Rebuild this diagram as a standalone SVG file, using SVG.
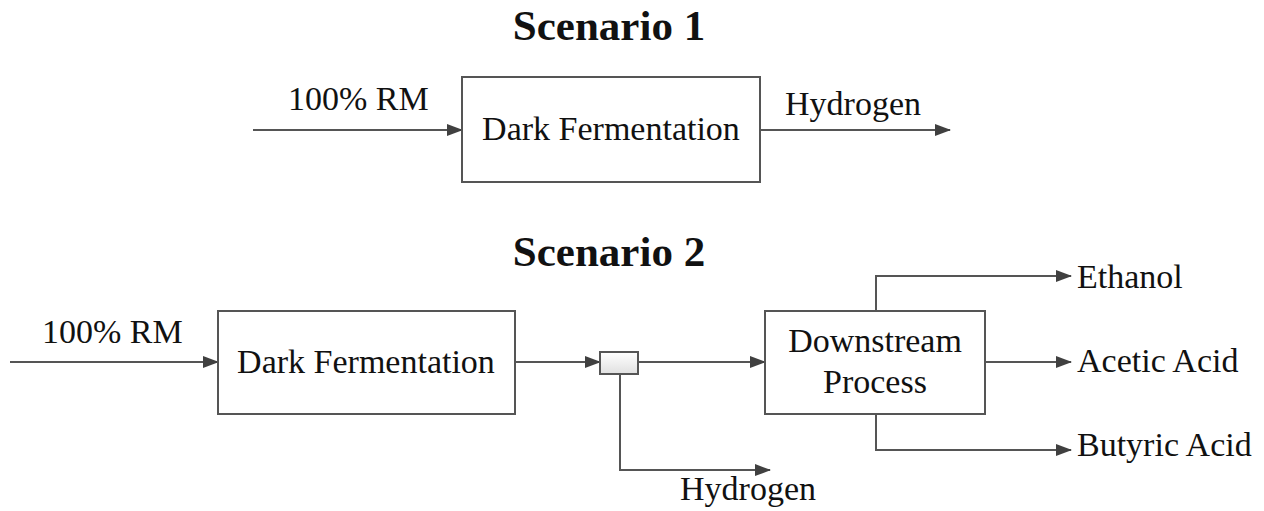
<svg xmlns="http://www.w3.org/2000/svg" width="1264" height="511" viewBox="0 0 1264 511">
<defs>
<marker id="arr" markerWidth="16" markerHeight="12" refX="15" refY="6" orient="auto" markerUnits="userSpaceOnUse">
<path d="M0,0 L16,6 L0,12 Z" fill="#404040"/>
</marker>
<linearGradient id="sg" x1="0" y1="0" x2="0" y2="1">
<stop offset="0" stop-color="#ffffff"/>
<stop offset="1" stop-color="#e0e0e0"/>
</linearGradient>
</defs>
<style>
.box{fill:#fff;stroke:#555;stroke-width:2}
.ln{fill:none;stroke:#555;stroke-width:2}
.t{font-family:"Liberation Serif","Times New Roman",serif;font-size:34px;fill:#111}
.h{font-family:"Liberation Serif","Times New Roman",serif;font-size:43px;font-weight:bold;fill:#111;text-anchor:middle}
.c{text-anchor:middle}
</style>
<rect width="1264" height="511" fill="#fff"/>
<text class="h" x="609" y="40">Scenario 1</text>
<text class="h" x="609" y="266">Scenario 2</text>
<g id="connectors">
<line class="ln" x1="253" y1="130" x2="462" y2="130" marker-end="url(#arr)"/>
<line class="ln" x1="760" y1="130" x2="950" y2="130" marker-end="url(#arr)"/>
<line class="ln" x1="10" y1="362" x2="218" y2="362" marker-end="url(#arr)"/>
<line class="ln" x1="515" y1="362" x2="600" y2="362" marker-end="url(#arr)"/>
<line class="ln" x1="638" y1="362" x2="765" y2="362" marker-end="url(#arr)"/>
<polyline class="ln" points="620,374 620,470 770,470" marker-end="url(#arr)"/>
<polyline class="ln" points="876,311 876,276 1071,276" marker-end="url(#arr)"/>
<line class="ln" x1="985" y1="362" x2="1071" y2="362" marker-end="url(#arr)"/>
<polyline class="ln" points="876,414 876,450 1071,450" marker-end="url(#arr)"/>
</g>
<g id="labels">
<text class="t" x="288" y="110">100% RM</text>
<text class="t" x="785" y="115">Hydrogen</text>
<text class="t" x="42" y="343">100% RM</text>
<text class="t" x="680" y="500">Hydrogen</text>
<text class="t" x="1077" y="288">Ethanol</text>
<text class="t" x="1077" y="372">Acetic Acid</text>
<text class="t" x="1077" y="456">Butyric Acid</text>
</g>
<g id="df1">
<rect class="box" x="462" y="77" width="298" height="105"/>
<text class="t c" x="611" y="140">Dark Fermentation</text>
</g>
<g id="df2">
<rect class="box" x="218" y="311" width="297" height="103"/>
<text class="t c" x="366" y="373">Dark Fermentation</text>
</g>
<g id="splitter">
<rect x="600" y="352" width="38" height="22" fill="url(#sg)" stroke="#555" stroke-width="2"/>
</g>
<g id="downstream">
<rect class="box" x="765" y="311" width="220" height="103"/>
<text class="t c" x="875" y="352">Downstream</text>
<text class="t c" x="875" y="393">Process</text>
</g>
</svg>
